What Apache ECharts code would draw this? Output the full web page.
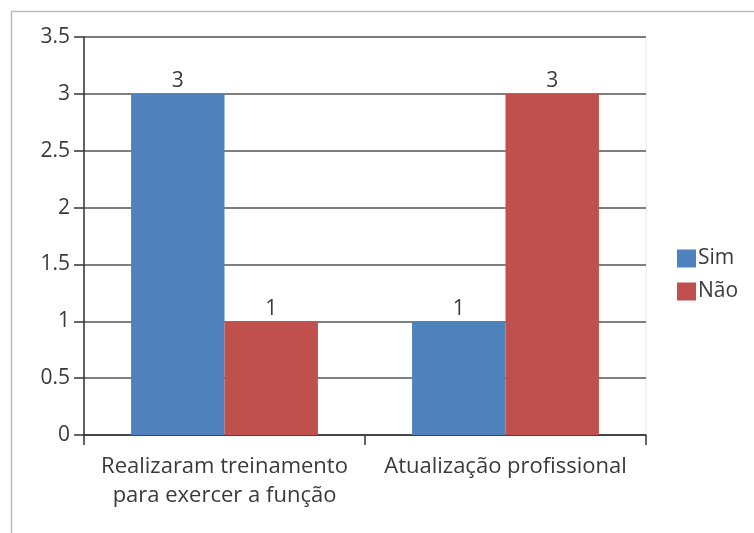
<!DOCTYPE html>
<html>
<head>
<meta charset="utf-8">
<script src="https://cdn.jsdelivr.net/npm/echarts@6/dist/echarts.min.js"></script>
<style>
  html, body { margin: 0; padding: 0; background: #fff; }
  #chart { width: 754px; height: 533px; }
</style>
</head>
<body>
<div id="chart"></div>
<script>
// Categories and series values
var categories = ['Realizaram treinamento\npara exercer a função', 'Atualização profissional'];
var simValues = [3, 1];
var naoValues = [1, 3];
var seriesNames = ['Sim', 'Não'];

var textColor = '#3a3a3a';
var fontFamily = '"Open Sans", "Noto Sans", sans-serif';

var chart = echarts.init(document.getElementById('chart'), null, { renderer: 'canvas' });

var labelStyle = {
  show: true,
  position: 'top',
  distance: 2,
  color: textColor,
  fontSize: 21,
  fontFamily: fontFamily
};

chart.setOption({
  animation: false,
  backgroundColor: '#fff',
  textStyle: { fontFamily: fontFamily },
  graphic: [{
    type: 'rect',
    shape: { x: 11.5, y: 11.5, width: 800, height: 600 },
    style: { fill: 'none', stroke: '#bdbdbd', lineWidth: 1.5 },
    silent: true,
    z: -10
  }],
  grid: {
    left: 84, right: 108, top: 37, bottom: 98,
    show: true, borderColor: '#e4e4e4', borderWidth: 1
  },
  legend: {
    orient: 'vertical',
    left: 672, top: 243,
    itemWidth: 19, itemHeight: 18,
    itemGap: 12,
    icon: 'rect',
    textStyle: { color: textColor, fontSize: 21, fontFamily: fontFamily, padding: [0, 0, 0, -3] },
    data: seriesNames
  },
  xAxis: {
    type: 'category',
    data: categories,
    axisLine: { lineStyle: { color: '#333', width: 1.5 } },
    axisTick: { show: true, length: 10, inside: false, lineStyle: { color: '#333', width: 1.5 } },
    axisLabel: { color: textColor, fontSize: 22, lineHeight: 29, margin: 17, fontFamily: fontFamily, interval: 0 }
  },
  yAxis: {
    type: 'value',
    min: 0, max: 3.5, interval: 0.5,
    axisLine: { show: true, lineStyle: { color: '#333', width: 1.5 } },
    axisTick: { show: true, length: 10, lineStyle: { color: '#333', width: 1.5 } },
    axisLabel: { color: textColor, fontSize: 21, margin: 14, fontFamily: fontFamily, padding: [6, 0, 0, 0] },
    splitLine: { show: true, lineStyle: { color: '#555', width: 1.5 } }
  },
  series: [{
    name: seriesNames[0],
    type: 'bar',
    data: simValues,
    barGap: '0%',
    barCategoryGap: '33.5%',
    itemStyle: { color: '#4F81BD' },
    label: labelStyle
  }, {
    name: seriesNames[1],
    type: 'bar',
    data: naoValues,
    barGap: '0%',
    barCategoryGap: '33.5%',
    itemStyle: { color: '#C0504D' },
    label: labelStyle
  }]
});
</script>
</body>
</html>
